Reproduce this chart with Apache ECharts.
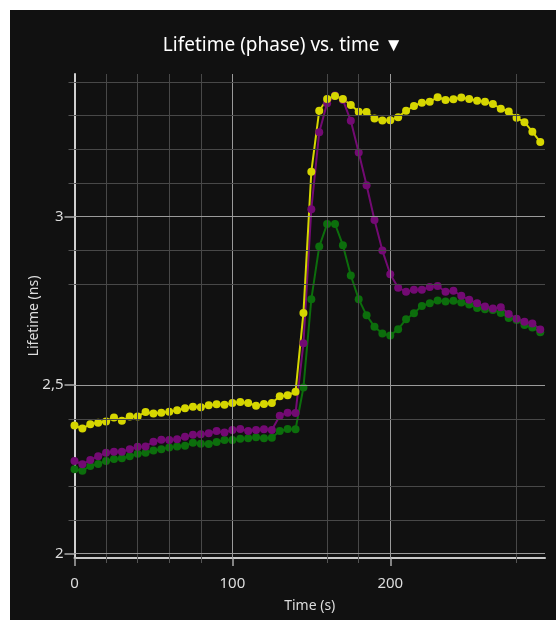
<!DOCTYPE html>
<html>
<head>
<meta charset="utf-8">
<script src="https://cdn.jsdelivr.net/npm/echarts@6/dist/echarts.min.js"></script>
<style>
    html, body { margin: 0; padding: 0; background: #ffffff; }
    #main { position: absolute; left: 10px; top: 10px; width: 546px; height: 610px; }
</style>
</head>
<body>
<div id="main"></div>
<script>
// time axis (s)
var times = [0, 5, 10, 15, 20, 25, 30, 35, 40, 45, 50, 55, 60, 65, 70, 75, 80, 85, 90, 95,
    100, 105, 110, 115, 120, 125, 130, 135, 140, 145, 150, 155, 160, 165, 170, 175, 180, 185, 190, 195,
    200, 205, 210, 215, 220, 225, 230, 235, 240, 245, 250, 255, 260, 265, 270, 275, 280, 285, 290, 295];

var yellowVals = [2.380, 2.371, 2.384, 2.388, 2.392, 2.404, 2.394, 2.407, 2.407, 2.420,
    2.416, 2.418, 2.421, 2.425, 2.431, 2.436, 2.434, 2.440, 2.443, 2.442,
    2.447, 2.450, 2.447, 2.439, 2.444, 2.447, 2.467, 2.470, 2.480, 2.714,
    3.133, 3.314, 3.349, 3.358, 3.349, 3.331, 3.311, 3.310, 3.291, 3.285,
    3.286, 3.295, 3.314, 3.328, 3.338, 3.341, 3.354, 3.346, 3.348, 3.353,
    3.349, 3.344, 3.341, 3.334, 3.320, 3.312, 3.293, 3.280, 3.252, 3.221];

var purpleVals = [2.275, 2.265, 2.278, 2.289, 2.299, 2.302, 2.302, 2.310, 2.317, 2.318,
    2.332, 2.338, 2.337, 2.339, 2.347, 2.353, 2.354, 2.357, 2.364, 2.359,
    2.367, 2.370, 2.364, 2.367, 2.369, 2.367, 2.409, 2.418, 2.417, 2.624,
    3.022, 3.250, 3.336, 3.359, 3.346, 3.284, 3.190, 3.093, 2.990, 2.899,
    2.829, 2.789, 2.777, 2.783, 2.783, 2.791, 2.794, 2.777, 2.780, 2.765,
    2.753, 2.743, 2.733, 2.727, 2.731, 2.711, 2.697, 2.688, 2.683, 2.665];

var greenVals = [2.250, 2.246, 2.260, 2.266, 2.275, 2.281, 2.283, 2.289, 2.296, 2.299,
    2.306, 2.310, 2.315, 2.318, 2.320, 2.329, 2.326, 2.325, 2.331, 2.337,
    2.337, 2.341, 2.342, 2.345, 2.342, 2.344, 2.364, 2.370, 2.369, 2.493,
    2.755, 2.911, 2.978, 2.978, 2.915, 2.825, 2.755, 2.707, 2.673, 2.653,
    2.647, 2.666, 2.695, 2.713, 2.735, 2.743, 2.751, 2.748, 2.750, 2.745,
    2.739, 2.729, 2.725, 2.723, 2.714, 2.699, 2.693, 2.678, 2.671, 2.657];

// ticks / grid lines
var xMajorTicks = [0, 100, 200];
var xMinorTicks = [20, 40, 60, 80, 160, 180, 280];
var yMajorTicks = [2, 2.5, 3];
var yMinorTicks = [2.1, 2.2, 2.4, 2.8, 2.9, 3.1, 3.2, 3.3, 3.4];

var FONT = 'Noto Sans';
var majorGrid = {color: '#9a9a9a', width: 1, type: 'solid'};
var minorGrid = {color: '#484848', width: 1, type: 'solid'};

function pairs(vals) {
    var out = [];
    for (var i = 0; i < times.length; i++) {
        out.push([times[i], vals[i]]);
    }
    return out;
}

function gridLines() {
    var lines = [];
    xMajorTicks.forEach(function (v) { if (v > 0) lines.push({xAxis: v, lineStyle: majorGrid}); });
    xMinorTicks.forEach(function (v) { lines.push({xAxis: v, lineStyle: minorGrid}); });
    yMajorTicks.forEach(function (v) { lines.push({yAxis: v, lineStyle: majorGrid}); });
    yMinorTicks.forEach(function (v) { lines.push({yAxis: v, lineStyle: minorGrid}); });
    return lines;
}

function lineSeries(name, vals, color) {
    return {
        name: name,
        type: 'line',
        data: pairs(vals),
        symbol: 'circle',
        symbolSize: 8,
        itemStyle: {color: color},
        lineStyle: {color: color, width: 2},
        z: 3
    };
}

var myChart = echarts.init(document.getElementById('main'));
var option = {
    backgroundColor: '#111111',
    animation: false,
    textStyle: {fontFamily: FONT},
    title: {
        text: 'Lifetime (phase) vs. time \u25BC',
        left: 'center',
        top: 21,
        textStyle: {color: '#ffffff', fontSize: 19, fontWeight: 'normal', fontFamily: FONT}
    },
    grid: {left: 64.5, right: 11, top: 64, bottom: 62, containLabel: false},
    xAxis: [{
        type: 'value',
        min: 0,
        max: 298,
        position: 'bottom',
        name: 'Time (s)',
        nameLocation: 'middle',
        nameGap: 41,
        nameMoveOverlap: false,
        nameTextStyle: {color: '#dddddd', fontSize: 14, fontFamily: FONT},
        axisLine: {show: true, lineStyle: {color: '#c8c8c8', width: 2}},
        axisTick: {show: true, customValues: xMajorTicks, length: 8, lineStyle: {color: '#aaaaaa', width: 1.5}},
        axisLabel: {customValues: xMajorTicks, color: '#dddddd', fontSize: 15, margin: 18, fontFamily: FONT},
        splitLine: {show: false}
    }, {
        type: 'value',
        min: 0,
        max: 298,
        position: 'bottom',
        axisLine: {show: false},
        axisTick: {show: true, customValues: xMinorTicks, length: 5, lineStyle: {color: '#555555', width: 1}},
        axisLabel: {show: false},
        splitLine: {show: false}
    }],
    yAxis: [{
        type: 'value',
        min: 1.987,
        max: 3.423,
        position: 'left',
        name: 'Lifetime (ns)',
        nameLocation: 'middle',
        nameGap: 33,
        nameMoveOverlap: false,
        nameTextStyle: {color: '#dddddd', fontSize: 14, fontFamily: FONT},
        axisLine: {show: true, lineStyle: {color: '#d0d0d0', width: 2}},
        axisTick: {show: true, customValues: yMajorTicks, length: 10, lineStyle: {color: '#aaaaaa', width: 1.5}},
        axisLabel: {
            customValues: yMajorTicks,
            color: '#dddddd',
            fontSize: 15,
            margin: 11,
            fontFamily: FONT,
            formatter: function (v) { return String(v).replace('.', ','); }
        },
        splitLine: {show: false}
    }, {
        type: 'value',
        min: 1.987,
        max: 3.423,
        position: 'left',
        axisLine: {show: false},
        axisTick: {show: true, customValues: yMinorTicks, length: 6, lineStyle: {color: '#555555', width: 1}},
        axisLabel: {show: false},
        splitLine: {show: false}
    }],
    series: [
        {
            type: 'line',
            data: [],
            z: 1,
            silent: true,
            markLine: {
                silent: true,
                symbol: ['none', 'none'],
                label: {show: false},
                animation: false,
                data: gridLines()
            }
        },
        lineSeries('green', greenVals, '#0c6e0c'),
        lineSeries('purple', purpleVals, '#730a73'),
        lineSeries('yellow', yellowVals, '#d6d600')
    ]
};
myChart.setOption(option);
</script>
</body>
</html>
